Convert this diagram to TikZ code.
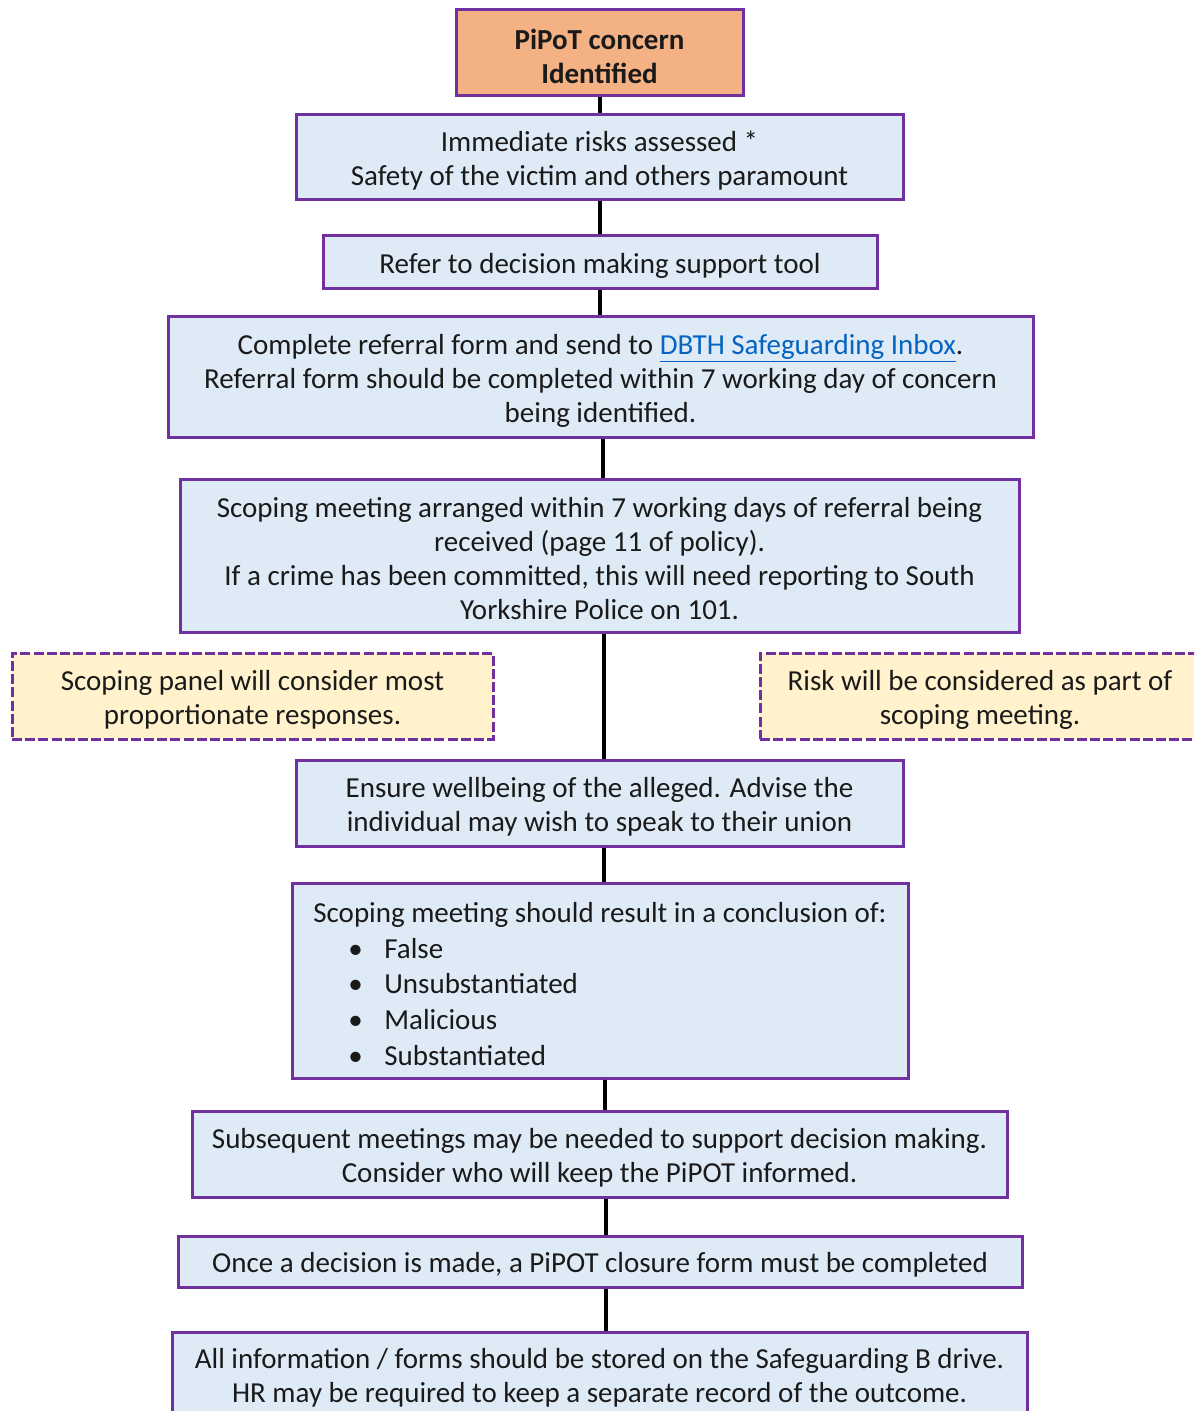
\documentclass[tikz,border=0pt]{standalone}
\usepackage{fontspec}
\setmainfont{Carlito}
\definecolor{bordpurple}{HTML}{7030A0}
\definecolor{boxblue}{HTML}{DEEBF7}
\definecolor{boxorange}{HTML}{F4B183}
\definecolor{boxyellow}{HTML}{FFF2CC}
\definecolor{linkblue}{HTML}{0563C1}
\definecolor{txt}{HTML}{1A1A1A}
\newcommand\liftline{\rule{0pt}{13.5pt}}
\tikzset{
  flowbox/.style={draw=bordpurple, line width=1.5pt, fill=boxblue, align=center,
    inner sep=0pt, text=txt, font=\fontsize{14.5}{17}\selectfont},
  startbox/.style={flowbox, fill=boxorange, font=\fontsize{14.5}{17}\selectfont\bfseries},
  notebox/.style={flowbox, fill=boxyellow, dash pattern=on 5pt off 1.6pt},
  link/.style={line width=2pt, draw=black}
}
\begin{document}
\begin{tikzpicture}[x=0.5pt,y=-0.5pt]
\useasboundingbox (0,0) rectangle (1194,1411);
\clip (0,0) rectangle (1194,1411);

\node[startbox, minimum width=143.5pt, minimum height=43pt] (n1) at (599.5,53)
  {\liftline PiPoT concern\\Identified};
\node[flowbox, minimum width=303.5pt, minimum height=42.5pt] (n2) at (599.5,157.5)
  {\liftline Immediate risks assessed *\\Safety of the victim and others paramount};
\node[flowbox, minimum width=277pt, minimum height=26.5pt] (n3) at (600,262.5)
  {\liftline Refer to decision making support tool};
\node[flowbox, minimum width=432.5pt, minimum height=60pt] (n4) at (600.5,377)
  {\liftline Complete referral form and send to \textcolor{linkblue}{\underline{DBTH Safeguarding Inbox}}.\\
   Referral form should be completed within 7 working day of concern\\being identified.};
\node[flowbox, minimum width=419.5pt, minimum height=76.5pt] (n5) at (599.5,555.5)
  {\liftline Scoping meeting arranged within 7 working days of referral being\\
   received (page 11 of policy).\\
   If a crime has been committed, this will need reporting to South\\
   Yorkshire Police on 101.};
\node[notebox, minimum width=240.5pt, minimum height=43pt] (n6) at (252.5,696)
  {\liftline Scoping panel will consider most\\proportionate responses.};
\node[notebox, minimum width=220pt, minimum height=43pt] (n7) at (980,696)
  {\liftline Risk will be considered as part of\\scoping meeting.};
\node[flowbox, minimum width=303.5pt, minimum height=43pt] (n8) at (599.5,803)
  {\liftline Ensure wellbeing of the alleged. Advise the\\individual may wish to speak to their union};
\node[flowbox, minimum width=308pt, minimum height=97.5pt, align=left,
      font=\fontsize{14.5}{17.8}\selectfont] (n9) at (600,980.5)
  {\liftline Scoping meeting should result in a conclusion of:\\
   \hspace*{17.5pt}\makebox[18pt][l]{•}False\\
   \hspace*{17.5pt}\makebox[18pt][l]{•}Unsubstantiated\\
   \hspace*{17.5pt}\makebox[18pt][l]{•}Malicious\\
   \hspace*{17.5pt}\makebox[18pt][l]{•}Substantiated};
\node[flowbox, minimum width=407.5pt, minimum height=43pt] (n10) at (599.5,1154)
  {\liftline Subsequent meetings may be needed to support decision making.\\
   Consider who will keep the PiPOT informed.};
\node[flowbox, minimum width=422pt, minimum height=25.5pt] (n11) at (600,1261.5)
  {\liftline Once a decision is made, a PiPOT closure form must be completed};
\node[flowbox, minimum width=427.5pt, minimum height=46pt] (n12) at (599.5,1378)
  {All information / forms should be stored on the Safeguarding B drive.\\
   HR may be required to keep a separate record of the outcome.};

\draw[link] (n1.south) -- (n1.south |- n2.north);
\draw[link] (n2.south) -- (n2.south |- n3.north);
\draw[link] (n3.south) -- (n3.south |- n4.north);
\draw[link] ([xshift=1pt]n4.south) -- ([xshift=1pt]n4.south |- n5.north);
\draw[link] ([xshift=2pt]n5.south) -- ([xshift=2pt]n5.south |- n8.north);
\draw[link] ([xshift=2pt]n8.south) -- ([xshift=2pt]n8.south |- n9.north);
\draw[link] ([xshift=2.5pt]n9.south) -- ([xshift=2.5pt]n9.south |- n10.north);
\draw[link] ([xshift=3pt]n10.south) -- ([xshift=3pt]n10.south |- n11.north);
\draw[link] ([xshift=3pt]n11.south) -- ([xshift=3pt]n11.south |- n12.north);
\end{tikzpicture}
\end{document}
